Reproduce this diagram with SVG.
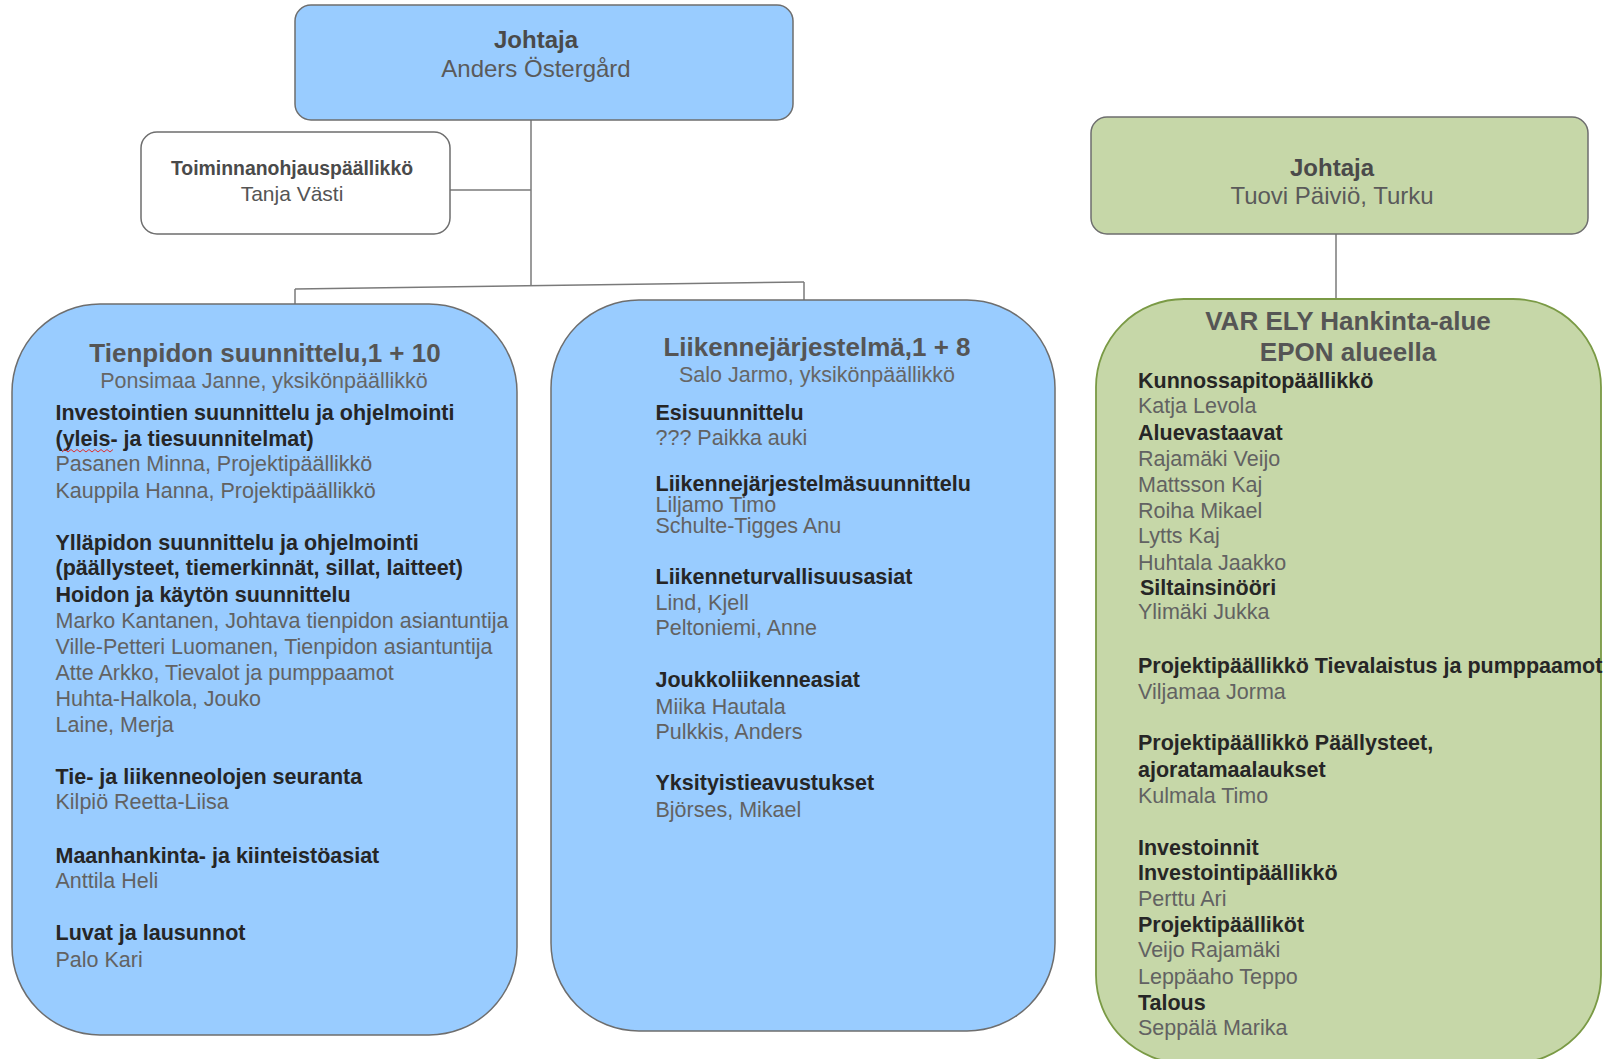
<svg xmlns="http://www.w3.org/2000/svg" width="1611" height="1059" viewBox="0 0 1611 1059">
<style>
text{font-family:"Liberation Sans",Arial,sans-serif;}
.box{stroke:#6e6e6e;stroke-width:1.5;}
.blue{fill:#99CCFF;}
.green{fill:#C6D7A8;}
.white{fill:#FFFFFF;}
.gbig{fill:#C6D7A8;stroke:#7A9A45;stroke-width:1.8;}
.con{stroke:#7a7a7a;stroke-width:1.5;fill:none;}
.t{font-size:26px;font-weight:bold;fill:#555555;text-anchor:middle;}
.st{font-size:21.5px;fill:#666666;text-anchor:middle;}
.h{font-size:21.5px;font-weight:bold;fill:#262626;}
.n{font-size:21.5px;fill:#626262;}
.jh{font-size:24px;font-weight:bold;fill:#4a4a4a;text-anchor:middle;}
.jn{font-size:24px;fill:#5a5a5a;text-anchor:middle;}
</style>

<g id="connectors">
<line class="con" x1="531" y1="120" x2="531" y2="286"/>
<line class="con" x1="450" y1="190" x2="531" y2="190"/>
<line class="con" x1="295" y1="289" x2="804" y2="282"/>
<line class="con" x1="295" y1="289" x2="295" y2="304"/>
<line class="con" x1="804" y1="282" x2="804" y2="300"/>
<line class="con" x1="1336" y1="234" x2="1336" y2="299"/>
</g>

<g id="johtaja">
<rect class="box blue" x="295" y="5" width="498" height="115" rx="16"/>
<text class="jh" x="536" y="48">Johtaja</text>
<text class="jn" x="536" y="77">Anders Östergård</text>
</g>

<g id="toiminnanohjaus">
<rect class="box white" x="141" y="132" width="309" height="102" rx="16"/>
<text x="292" y="175" style="font-size:19.4px;font-weight:bold;fill:#4a4a4a;text-anchor:middle">Toiminnanohjauspäällikkö</text>
<text x="292" y="201" style="font-size:21px;fill:#555555;text-anchor:middle">Tanja Västi</text>
</g>

<g id="johtaja-turku">
<rect class="box green" x="1091" y="117" width="497" height="117" rx="16"/>
<text class="jh" x="1332" y="176">Johtaja</text>
<text class="jn" x="1332" y="204">Tuovi Päiviö, Turku</text>
</g>

<g id="tienpidon">
<rect class="box blue" x="12" y="304" width="505" height="731" rx="88"/>
<text class="t" x="265" y="362">Tienpidon suunnittelu,1 + 10</text>
<text class="st" x="264" y="388">Ponsimaa Janne, yksikönpäällikkö</text>
<text class="h" x="55.5" y="420">Investointien suunnittelu ja ohjelmointi</text>
<text class="h" x="55.5" y="446">(yleis- ja tiesuunnitelmat)</text>
<path d="M62 452 l3 -2.5 l3 2.5 l3 -2.5 l3 2.5 l3 -2.5 l3 2.5 l3 -2.5 l3 2.5 l3 -2.5 l3 2.5 l3 -2.5 l3 2.5 l3 -2.5 l3 2.5 l3 -2.5 l3 2.5 l3 -2.5" fill="none" stroke="#e03030" stroke-width="1"/>
<text class="n" x="55.5" y="471">Pasanen Minna, Projektipäällikkö</text>
<text class="n" x="55.5" y="498">Kauppila Hanna, Projektipäällikkö</text>
<text class="h" x="55.5" y="550">Ylläpidon suunnittelu ja ohjelmointi</text>
<text class="h" x="55.5" y="575">(päällysteet, tiemerkinnät, sillat, laitteet)</text>
<text class="h" x="55.5" y="602">Hoidon ja käytön suunnittelu</text>
<text class="n" x="55.5" y="628">Marko Kantanen, Johtava tienpidon asiantuntija</text>
<text class="n" x="55.5" y="654">Ville-Petteri Luomanen, Tienpidon asiantuntija</text>
<text class="n" x="55.5" y="680">Atte Arkko, Tievalot ja pumppaamot</text>
<text class="n" x="55.5" y="706">Huhta-Halkola, Jouko</text>
<text class="n" x="55.5" y="732">Laine, Merja</text>
<text class="h" x="55.5" y="784">Tie- ja liikenneolojen seuranta</text>
<text class="n" x="55.5" y="809">Kilpiö Reetta-Liisa</text>
<text class="h" x="55.5" y="863">Maanhankinta- ja kiinteistöasiat</text>
<text class="n" x="55.5" y="888">Anttila Heli</text>
<text class="h" x="55.5" y="940">Luvat ja lausunnot</text>
<text class="n" x="55.5" y="967">Palo Kari</text>
</g>

<g id="liikennejarjestelma">
<rect class="box blue" x="551" y="300" width="504" height="731" rx="88"/>
<text class="t" x="817" y="356">Liikennejärjestelmä,1 + 8</text>
<text class="st" x="817" y="382">Salo Jarmo, yksikönpäällikkö</text>
<text class="h" x="655.5" y="420">Esisuunnittelu</text>
<text class="n" x="655.5" y="445">??? Paikka auki</text>
<text class="h" x="655.5" y="491">Liikennejärjestelmäsuunnittelu</text>
<text class="n" x="655.5" y="512">Liljamo Timo</text>
<text class="n" x="655.5" y="533">Schulte-Tigges Anu</text>
<text class="h" x="655.5" y="584">Liikenneturvallisuusasiat</text>
<text class="n" x="655.5" y="610">Lind, Kjell</text>
<text class="n" x="655.5" y="635">Peltoniemi, Anne</text>
<text class="h" x="655.5" y="687">Joukkoliikenneasiat</text>
<text class="n" x="655.5" y="714">Miika Hautala</text>
<text class="n" x="655.5" y="739">Pulkkis, Anders</text>
<text class="h" x="655.5" y="790">Yksityistieavustukset</text>
<text class="n" x="655.5" y="817">Björses, Mikael</text>
</g>

<g id="var-ely">
<rect class="gbig" x="1096" y="299" width="505" height="764" rx="88"/>
<text class="t" x="1348" y="330">VAR ELY Hankinta-alue</text>
<text class="t" x="1348" y="361">EPON alueella</text>
<text class="h" x="1138" y="388">Kunnossapitopäällikkö</text>
<text class="n" x="1138" y="413">Katja Levola</text>
<text class="h" x="1138" y="440">Aluevastaavat</text>
<text class="n" x="1138" y="466">Rajamäki Veijo</text>
<text class="n" x="1138" y="492">Mattsson Kaj</text>
<text class="n" x="1138" y="518">Roiha Mikael</text>
<text class="n" x="1138" y="543">Lytts Kaj</text>
<text class="n" x="1138" y="570">Huhtala Jaakko</text>
<text class="h" x="1140" y="595">Siltainsinööri</text>
<text class="n" x="1138" y="619">Ylimäki Jukka</text>
<text class="h" x="1138" y="673">Projektipäällikkö Tievalaistus ja pumppaamot</text>
<text class="n" x="1138" y="699">Viljamaa Jorma</text>
<text class="h" x="1138" y="750">Projektipäällikkö Päällysteet,</text>
<text class="h" x="1138" y="777">ajoratamaalaukset</text>
<text class="n" x="1138" y="803">Kulmala Timo</text>
<text class="h" x="1138" y="855">Investoinnit</text>
<text class="h" x="1138" y="880">Investointipäällikkö</text>
<text class="n" x="1138" y="906">Perttu Ari</text>
<text class="h" x="1138" y="932">Projektipäälliköt</text>
<text class="n" x="1138" y="957">Veijo Rajamäki</text>
<text class="n" x="1138" y="984">Leppäaho Teppo</text>
<text class="h" x="1138" y="1010">Talous</text>
<text class="n" x="1138" y="1035">Seppälä Marika</text>
</g>
</svg>
